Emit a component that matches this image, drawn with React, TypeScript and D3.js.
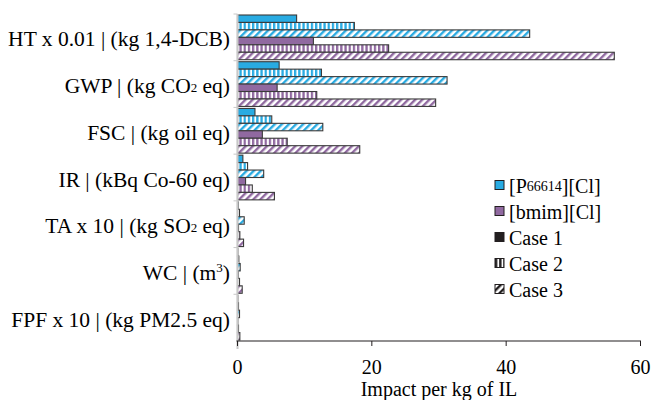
import React from "react";
import * as d3 from "d3";

// impact categories, top to bottom
const categories = [
  "HT",
  "GWP",
  "FSC",
  "IR",
  "TA",
  "WC",
  "FPF",
];

// values (impact per kg of IL)
const p66614Case1 = [8.8, 6.2, 2.6, 0.8, 0.1, 0.05, 0.05];
const p66614Case2 = [17.4, 12.5, 5.1, 1.5, 0.3, 0.2, 0.15];
const p66614Case3 = [43.5, 31.2, 12.7, 3.9, 1.0, 0.4, 0.3];
const bmimCase1 = [11.3, 5.9, 3.7, 1.2, 0.15, 0.1, 0.05];
const bmimCase2 = [22.5, 11.8, 7.4, 2.2, 0.35, 0.3, 0.15];
const bmimCase3 = [56.1, 29.5, 18.2, 5.5, 0.9, 0.7, 0.35];

const xTicks = [0, 20, 40, 60];

const BLUE = "#29abe2";
const PURPLE = "#9069a0";

const series = [
  { key: "p1", values: p66614Case1, color: BLUE, fill: "solid" },
  { key: "p2", values: p66614Case2, color: BLUE, fill: "vert" },
  { key: "p3", values: p66614Case3, color: BLUE, fill: "diag" },
  { key: "b1", values: bmimCase1, color: PURPLE, fill: "solid" },
  { key: "b2", values: bmimCase2, color: PURPLE, fill: "vert" },
  { key: "b3", values: bmimCase3, color: PURPLE, fill: "diag" },
];

const FONT = "'Liberation Serif', 'Times New Roman', serif";

// category labels with sub/superscripts
const CatLabel = ({ name, x, y }: { name: string; x: number; y: number }) => {
  const sub = { fontSize: 13 };
  let content: React.ReactNode;
  switch (name) {
    case "HT":
      content = "HT x 0.01 | (kg 1,4-DCB)";
      break;
    case "GWP":
      content = (
        <>
          GWP | (kg CO<tspan style={sub} dy={1}>2</tspan>
          <tspan dy={-1}> eq)</tspan>
        </>
      );
      break;
    case "FSC":
      content = "FSC | (kg oil eq)";
      break;
    case "IR":
      content = "IR | (kBq Co-60 eq)";
      break;
    case "TA":
      content = (
        <>
          TA x 10 | (kg SO<tspan style={sub} dy={1}>2</tspan>
          <tspan dy={-1}> eq)</tspan>
        </>
      );
      break;
    case "WC":
      content = (
        <>
          WC | (m<tspan style={sub} dy={-6}>3</tspan>
          <tspan dy={6}>)</tspan>
        </>
      );
      break;
    default:
      content = "FPF x 10 | (kg PM2.5 eq)";
  }
  return (
    <text x={x} y={y} textAnchor="end" dominantBaseline="central" fontSize={21.5}>
      {content}
    </text>
  );
};

const App = () => {
  const width = 654;
  const height = 400;
  const x0 = 237.5;
  const x1 = 640.5;
  const yTop = 14;
  const yBottom = 341;

  const x = d3.scaleLinear().domain([0, 60]).range([x0, x1]);
  const y = d3.scaleBand<string>().domain(categories).range([yTop, yBottom]);
  const inner = d3
    .scaleBand<string>()
    .domain(series.map((s) => s.key))
    .range([1, y.bandwidth() - 1]);

  const fillFor = (s: { color: string; fill: string; key: string }) => {
    if (s.fill === "solid") return s.color;
    return `url(#${s.fill}-${s.color === BLUE ? "blue" : "purple"})`;
  };

  const legend = [
    { label: "P", fill: BLUE },
    { label: "[bmim][Cl]", fill: PURPLE },
    { label: "Case 1", fill: "#231f20" },
    { label: "Case 2", fill: "url(#vert-black)" },
    { label: "Case 3", fill: "url(#diag-black)" },
  ];

  return (
    <svg
      width={width}
      height={height}
      style={{ position: "absolute", left: 0, top: 0, fontFamily: FONT, fontSize: 20 }}
    >
      <defs>
        {[
          ["blue", BLUE],
          ["purple", PURPLE],
          ["black", "#231f20"],
        ].map(([name, c]) => (
          <React.Fragment key={name}>
            <pattern id={`vert-${name}`} patternUnits="userSpaceOnUse" width={4.2} height={10}>
              <rect width={4.2} height={10} fill="#fff" />
              <rect width={2.3} height={10} fill={c} />
            </pattern>
            <pattern
              id={`diag-${name}`}
              patternUnits="userSpaceOnUse"
              width={5}
              height={5}
              patternTransform="rotate(45)"
            >
              <rect width={5} height={5} fill="#fff" />
              <rect width={2.4} height={5} fill={c} />
            </pattern>
          </React.Fragment>
        ))}
      </defs>

      {/* bars */}
      {categories.map((cat, ci) => (
        <g key={cat} transform={`translate(0,${y(cat)})`}>
          {series.map((s) => (
            <rect
              key={s.key}
              x={x(0)}
              y={inner(s.key)}
              width={Math.max(0, x(s.values[ci]) - x(0))}
              height={inner.bandwidth()}
              fill={fillFor(s)}
              stroke="#3a3a3a"
              strokeWidth={1.1}
            />
          ))}
        </g>
      ))}

      {/* y axis (light) */}
      <line x1={x0} x2={x0} y1={yTop} y2={yBottom + 8} stroke="#c8c8c8" strokeWidth={2} />
      {categories.map((cat) => (
        <line
          key={cat}
          x1={x0 - 4}
          x2={x0}
          y1={y(cat)}
          y2={y(cat)}
          stroke="#c8c8c8"
          strokeWidth={1}
        />
      ))}

      {/* category labels */}
      {categories.map((cat) => (
        <CatLabel key={cat} name={cat} x={230} y={(y(cat) as number) + y.bandwidth() / 2 + 2} />
      ))}

      {/* x axis */}
      <line x1={x0 - 1} x2={x1 + 0.5} y1={yBottom} y2={yBottom} stroke="#231f20" strokeWidth={1.2} />
      {xTicks.map((t) => (
        <g key={t}>
          <line x1={x(t)} x2={x(t)} y1={yBottom} y2={yBottom + 5} stroke="#231f20" strokeWidth={1} />
          <text x={x(t)} y={367} textAnchor="middle" dominantBaseline="central">
            {t}
          </text>
        </g>
      ))}
      <text x={439} y={389} textAnchor="middle" dominantBaseline="central">
        Impact per kg of IL
      </text>

      {/* legend */}
      {legend.map((l, i) => (
        <g key={i} transform={`translate(495,${185 + i * 26})`}>
          <rect x={0} y={-4.5} width={9} height={9} fill={l.fill} stroke="#231f20" strokeWidth={1} />
          <text x={14} y={1} dominantBaseline="central">
            {l.label === "P" ? (
              <>
                [P<tspan style={{ fontSize: 14 }}>66614</tspan>][Cl]
              </>
            ) : (
              l.label
            )}
          </text>
        </g>
      ))}
    </svg>
  );
};

export default App;
